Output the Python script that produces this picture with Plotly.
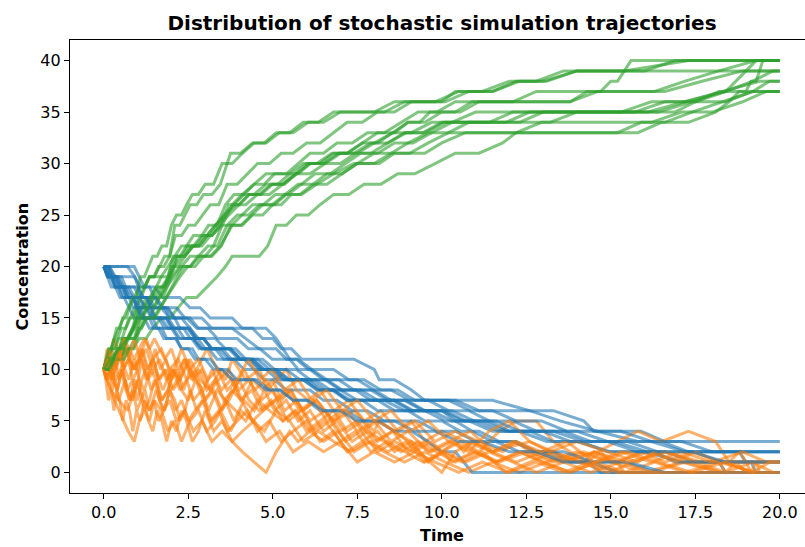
import plotly.graph_objects as go

# Stochastic simulation runs of A -> B -> C. Each run lists its event times and
# the molecule counts of A, B and C right after every event.
times = [
    [0, 0.15, 0.35, 0.5, 0.7, 0.9, 1.1, 1.3, 1.5, 1.75, 2.0, 2.25, 2.55, 2.85, 3.15, 3.45, 3.8, 4.1, 4.4, 4.7, 5.0, 5.25, 5.55, 5.85, 6.3, 6.8, 7.4, 8.0, 8.15, 8.6, 9.1, 9.5, 10.0, 10.7, 11.5, 12.6, 13.3, 14.2, 14.5, 15.2, 15.9, 16.6, 17.4, 18.3, 19.2, 20.0],
    [0, 0.1, 0.2, 0.32, 0.45, 0.55, 0.7, 0.85, 1.0, 1.12, 1.25, 1.4, 1.55, 1.7, 1.9, 2.05, 2.25, 2.45, 2.65, 2.9, 3.1, 3.35, 3.6, 3.85, 4.15, 4.45, 4.75, 5.05, 5.4, 5.75, 6.1, 6.5, 6.9, 7.35, 7.8, 8.3, 8.8, 9.3, 9.85, 10.4, 11.0, 11.6, 12.3, 13.0, 13.8, 14.6, 15.4, 16.3, 17.2, 18.2, 19.3, 20.0],
    [0, 0.08, 0.18, 0.3, 0.4, 0.52, 0.65, 0.78, 0.9, 1.05, 1.2, 1.35, 1.5, 1.65, 1.8, 1.95, 2.1, 2.25, 2.4, 2.55, 2.75, 2.95, 3.2, 3.45, 3.75, 4.05, 4.4, 4.75, 5.1, 5.5, 5.9, 6.35, 6.8, 7.3, 7.8, 8.3, 8.9, 9.5, 10.1, 10.8, 11.5, 12.3, 13.1, 14.0, 15.0, 16.0, 17.1, 18.2, 19.3, 20.0],
    [0, 0.15, 0.3, 0.5, 0.65, 0.85, 1.05, 1.25, 1.45, 1.7, 1.95, 2.2, 2.45, 2.75, 3.05, 3.35, 3.6, 3.8, 4.2, 4.6, 4.85, 5.1, 5.4, 5.7, 6.05, 6.4, 6.8, 7.25, 7.7, 8.2, 8.7, 9.2, 9.8, 10.4, 11.1, 11.8, 12.2, 12.6, 13.5, 14.6, 15.8, 16.5, 17.3, 18.1, 18.5, 18.8, 19.0, 19.15, 19.3, 19.4, 19.5, 20.0],
    [0, 0.12, 0.25, 0.38, 0.5, 0.62, 0.75, 0.9, 1.05, 1.2, 1.38, 1.55, 1.72, 1.9, 2.1, 2.3, 2.5, 2.72, 2.95, 3.2, 3.45, 3.7, 4.0, 4.3, 4.6, 4.95, 5.3, 5.65, 6.0, 6.4, 6.8, 7.2, 7.65, 8.1, 8.55, 9.0, 9.5, 10.0, 10.55, 11.1, 11.7, 12.2, 12.8, 13.3, 13.8, 14.3, 14.7, 15.0, 15.2, 15.4, 15.6, 20.0],
    [0, 0.1, 0.22, 0.35, 0.48, 0.6, 0.75, 0.9, 1.05, 1.2, 1.35, 1.5, 1.65, 1.8, 2.0, 2.2, 2.4, 2.65, 2.9, 3.15, 3.4, 3.7, 4.0, 4.3, 4.65, 5.0, 5.35, 5.7, 6.1, 6.55, 7.0, 7.5, 8.0, 8.55, 9.1, 9.7, 10.3, 11.0, 11.7, 12.5, 13.3, 14.2, 15.1, 16.1, 17.2, 18.4, 20.0],
    [0, 0.08, 0.16, 0.25, 0.34, 0.44, 0.54, 0.64, 0.75, 0.86, 0.98, 1.1, 1.22, 1.35, 1.48, 1.62, 1.78, 1.95, 2.12, 2.3, 2.5, 2.7, 2.92, 3.15, 3.4, 3.65, 3.95, 4.25, 4.55, 4.9, 5.25, 5.6, 6.0, 6.4, 6.8, 7.2, 7.65, 8.1, 8.6, 9.1, 9.6, 10.0, 10.4, 10.65, 10.9, 11.5, 12.2, 13.0, 14.0, 15.4, 17.3, 20.0],
    [0, 0.1, 0.2, 0.32, 0.45, 0.58, 0.72, 0.9, 1.05, 1.2, 1.35, 1.5, 1.7, 1.9, 2.1, 2.3, 2.55, 2.8, 3.05, 3.3, 3.6, 3.9, 4.2, 4.55, 4.9, 5.3, 5.7, 6.1, 6.55, 7.0, 7.45, 7.9, 8.4, 8.9, 9.45, 10.0, 10.6, 11.2, 11.9, 12.6, 13.3, 14.1, 14.9, 15.7, 16.6, 17.5, 18.4, 19.2, 19.8, 20.0],
    [0, 0.12, 0.25, 0.4, 0.55, 0.7, 0.85, 1.0, 1.18, 1.36, 1.55, 1.75, 1.95, 2.15, 2.4, 2.65, 2.9, 3.2, 3.5, 3.8, 4.1, 4.45, 4.8, 5.1, 5.3, 5.5, 5.75, 6.1, 6.5, 6.95, 7.4, 7.9, 8.4, 8.95, 9.5, 10.1, 10.7, 11.4, 12.1, 12.8, 13.6, 14.4, 15.3, 16.2, 17.2, 18.3, 19.4, 20.0],
    [0, 0.1, 0.22, 0.34, 0.46, 0.58, 0.72, 0.86, 1.0, 1.15, 1.3, 1.46, 1.62, 1.8, 1.98, 2.18, 2.38, 2.6, 2.82, 3.05, 3.3, 3.55, 3.85, 4.15, 4.45, 4.8, 5.15, 5.5, 5.9, 6.3, 6.75, 7.2, 7.65, 8.1, 8.6, 9.0, 9.35, 9.65, 10.0, 10.4, 10.9, 11.5, 12.1, 12.8, 13.6, 14.5, 15.5, 16.6, 17.7, 18.9, 20.0],
    [0, 0.15, 0.3, 0.45, 0.6, 0.75, 0.92, 1.1, 1.28, 1.46, 1.65, 1.85, 2.05, 2.25, 2.48, 2.7, 2.95, 3.2, 3.48, 3.76, 4.05, 4.38, 4.7, 5.05, 5.4, 5.8, 6.2, 6.6, 7.05, 7.5, 8.0, 8.5, 9.0, 9.6, 10.2, 10.8, 11.4, 12.0, 12.6, 13.2, 14.0, 14.9, 15.8, 16.3, 16.9, 17.5, 18.2, 18.4, 18.7, 19.0, 19.3, 20.0],
    [0, 0.06, 0.14, 0.22, 0.3, 0.38, 0.47, 0.56, 0.66, 0.76, 0.86, 0.97, 1.08, 1.2, 1.32, 1.45, 1.58, 1.72, 1.86, 2.0, 2.15, 2.3, 2.45, 2.62, 2.8, 3.0, 3.25, 3.5, 3.8, 4.1, 4.45, 4.8, 5.2, 5.6, 6.05, 6.5, 7.0, 7.5, 8.0, 8.6, 9.2, 9.8, 10.5, 11.2, 12.0, 12.8, 13.6, 14.4, 15.2, 16.0, 16.9, 20.0],
    [0, 0.14, 0.28, 0.42, 0.58, 0.74, 0.9, 1.08, 1.26, 1.45, 1.65, 1.85, 2.08, 2.3, 2.55, 2.8, 3.08, 3.36, 3.65, 3.95, 4.28, 4.62, 4.98, 5.35, 5.75, 6.15, 6.6, 7.05, 7.5, 8.0, 8.5, 9.05, 9.6, 10.2, 10.85, 11.5, 12.2, 12.95, 13.7, 14.5, 15.3, 16.2, 17.1, 18.0, 18.9, 19.6, 20.0],
    [0, 0.2, 0.45, 0.7, 0.92, 1.02, 1.12, 1.25, 1.38, 1.52, 1.68, 1.84, 2.0, 2.18, 2.36, 2.56, 2.78, 3.0, 3.25, 3.5, 3.78, 4.08, 4.4, 4.72, 5.08, 5.45, 5.85, 6.25, 6.7, 7.15, 7.6, 8.1, 8.6, 9.15, 9.7, 10.3, 10.95, 11.6, 12.3, 13.0, 13.8, 14.6, 15.5, 16.4, 17.4, 18.4, 19.2, 19.7, 20.0],
]

conc_a = [
    [20, 20, 19, 19, 19, 19, 18, 18, 18, 17, 17, 17, 16, 16, 15, 15, 15, 14, 14, 13, 13, 12, 12, 11, 11, 11, 11, 10, 9, 9, 8, 7, 7, 7, 7, 6, 6, 5, 4, 4, 4, 3, 3, 3, 3, 3],
    [20, 19, 19, 18, 18, 18, 17, 17, 16, 16, 16, 15, 15, 15, 14, 14, 13, 13, 13, 12, 12, 11, 11, 11, 10, 10, 9, 9, 8, 8, 8, 7, 7, 6, 6, 5, 5, 5, 4, 4, 3, 3, 2, 2, 1, 1, 1, 0, 0, 0, 0, 0],
    [20, 20, 20, 19, 19, 19, 18, 18, 18, 17, 17, 17, 16, 16, 16, 15, 15, 14, 14, 14, 13, 13, 12, 12, 12, 11, 11, 10, 10, 9, 9, 8, 8, 7, 7, 7, 6, 6, 5, 5, 4, 4, 3, 3, 2, 2, 1, 1, 1, 1],
    [20, 19, 19, 18, 18, 17, 17, 16, 16, 16, 15, 15, 15, 14, 14, 14, 14, 14, 13, 12, 12, 12, 11, 11, 10, 10, 10, 9, 9, 8, 8, 7, 7, 7, 6, 6, 6, 6, 5, 4, 3, 3, 2, 2, 2, 2, 1, 1, 0, 0, 0, 0],
    [20, 20, 19, 18, 18, 18, 17, 17, 17, 16, 16, 15, 15, 15, 14, 14, 14, 13, 13, 12, 12, 12, 11, 11, 10, 10, 9, 9, 9, 8, 8, 7, 7, 6, 6, 6, 5, 5, 4, 4, 3, 3, 2, 2, 1, 1, 0, 0, 0, 0, 0, 0],
    [20, 19, 18, 18, 17, 17, 16, 15, 15, 15, 14, 14, 14, 14, 14, 13, 13, 13, 12, 12, 12, 11, 11, 11, 10, 10, 9, 9, 9, 8, 8, 7, 7, 7, 6, 6, 5, 5, 4, 4, 4, 3, 3, 2, 2, 2, 2],
    [20, 20, 19, 19, 18, 18, 17, 17, 17, 16, 16, 15, 15, 15, 14, 14, 13, 13, 13, 12, 12, 11, 11, 11, 10, 10, 9, 9, 9, 8, 8, 7, 7, 6, 6, 6, 5, 5, 4, 4, 3, 2, 2, 1, 0, 0, 0, 0, 0, 0, 0, 0],
    [20, 20, 20, 20, 20, 20, 20, 20, 19, 18, 18, 17, 16, 16, 15, 15, 14, 13, 13, 13, 12, 12, 11, 11, 10, 10, 10, 9, 9, 8, 8, 7, 7, 7, 6, 6, 5, 5, 4, 4, 3, 3, 2, 2, 2, 1, 1, 1, 1, 1],
    [20, 19, 19, 19, 18, 18, 18, 18, 17, 17, 17, 16, 16, 16, 15, 15, 15, 14, 14, 14, 14, 14, 14, 13, 12, 11, 10, 10, 9, 9, 8, 8, 7, 7, 6, 6, 5, 5, 5, 4, 4, 3, 3, 3, 2, 2, 2, 2],
    [20, 20, 19, 18, 18, 18, 17, 17, 16, 15, 15, 15, 15, 14, 14, 14, 13, 13, 12, 12, 12, 11, 11, 11, 10, 10, 9, 9, 9, 8, 8, 7, 7, 7, 6, 6, 6, 6, 6, 5, 4, 3, 3, 2, 2, 1, 1, 0, 0, 0, 0],
    [20, 19, 19, 18, 17, 17, 17, 16, 16, 15, 15, 15, 14, 14, 14, 13, 13, 12, 12, 12, 11, 11, 11, 10, 10, 9, 9, 9, 8, 8, 8, 7, 7, 7, 6, 6, 5, 4, 4, 4, 4, 3, 2, 2, 1, 1, 1, 0, 0, 0, 0, 0],
    [20, 20, 20, 19, 19, 19, 18, 18, 17, 17, 17, 16, 16, 15, 15, 15, 14, 14, 13, 13, 13, 12, 12, 12, 11, 11, 10, 10, 9, 9, 9, 8, 8, 7, 7, 6, 6, 5, 5, 5, 4, 4, 3, 3, 2, 2, 1, 1, 0, 0, 0, 0],
    [20, 19, 19, 19, 18, 18, 17, 17, 17, 16, 16, 16, 15, 15, 15, 14, 14, 13, 13, 13, 12, 12, 11, 11, 11, 10, 9, 9, 9, 8, 8, 7, 7, 7, 6, 6, 5, 5, 4, 4, 4, 3, 3, 2, 2, 2, 2],
    [20, 20, 20, 20, 19, 18, 17, 17, 16, 15, 15, 15, 14, 14, 14, 13, 13, 12, 12, 12, 11, 11, 11, 10, 10, 9, 9, 9, 8, 8, 8, 7, 7, 6, 6, 6, 5, 5, 4, 4, 3, 3, 3, 2, 2, 1, 1, 1, 1],
]

conc_b = [
    [10, 11, 9, 10, 12, 10, 11, 9, 10, 8, 10, 9, 11, 9, 8, 10, 9, 7, 9, 8, 9, 7, 8, 6, 7, 5, 6, 4, 5, 4, 5, 3, 4, 3, 2, 3, 2, 1, 2, 1, 2, 1, 2, 1, 0, 0],
    [10, 12, 10, 11, 9, 10, 8, 9, 7, 9, 10, 8, 9, 7, 8, 10, 8, 9, 7, 8, 6, 8, 7, 5, 7, 6, 8, 6, 7, 5, 6, 4, 5, 3, 4, 3, 2, 3, 2, 1, 2, 1, 2, 1, 0, 1, 0, 1, 0, 1, 0, 0],
    [10, 9, 11, 9, 8, 10, 8, 7, 9, 8, 6, 7, 9, 7, 6, 8, 7, 5, 6, 8, 6, 7, 5, 6, 4, 6, 5, 4, 6, 5, 3, 4, 3, 2, 3, 2, 1, 2, 1, 0, 1, 0, 1, 2, 1, 0, 1, 0, 0, 0],
    [10, 11, 13, 11, 12, 10, 11, 13, 11, 12, 10, 11, 9, 10, 12, 10, 9, 11, 9, 10, 8, 9, 10, 8, 7, 8, 6, 7, 5, 6, 4, 5, 3, 4, 3, 2, 3, 2, 1, 2, 4, 3, 4, 3, 1, 2, 1, 0, 1, 0, 0, 0],
    [10, 9, 11, 10, 12, 10, 9, 11, 9, 8, 10, 9, 7, 8, 10, 8, 7, 9, 7, 8, 6, 7, 9, 7, 6, 7, 5, 6, 4, 5, 6, 4, 5, 3, 4, 2, 3, 2, 3, 2, 4, 5, 5, 3, 2, 1, 2, 1, 1, 0, 0, 0],
    [10, 11, 12, 11, 12, 13, 12, 11, 12, 13, 12, 13, 12, 11, 12, 10, 11, 9, 10, 8, 9, 10, 8, 9, 7, 8, 6, 7, 5, 6, 4, 5, 3, 4, 3, 2, 3, 2, 1, 2, 1, 2, 1, 2, 1, 1, 1],
    [10, 9, 10, 8, 9, 7, 8, 9, 7, 8, 6, 7, 8, 6, 7, 5, 6, 8, 6, 7, 5, 6, 7, 5, 6, 4, 5, 6, 4, 5, 3, 4, 5, 3, 4, 2, 3, 4, 2, 3, 1, 2, 3, 2, 3, 2, 1, 2, 1, 0, 0, 0],
    [10, 9, 8, 7, 6, 5, 4, 3, 5, 6, 5, 7, 6, 4, 5, 3, 5, 6, 4, 5, 7, 6, 5, 7, 6, 5, 6, 4, 5, 3, 4, 2, 3, 2, 1, 2, 1, 2, 0, 1, 2, 1, 0, 1, 2, 1, 0, 1, 0, 0],
    [10, 11, 9, 8, 10, 8, 7, 9, 7, 6, 8, 6, 7, 5, 6, 4, 5, 3, 4, 3, 2, 1, 0, 2, 3, 4, 3, 4, 3, 4, 2, 3, 2, 3, 1, 2, 1, 2, 1, 0, 1, 0, 1, 0, 1, 0, 0, 0],
    [10, 11, 9, 10, 12, 10, 11, 9, 10, 12, 10, 11, 9, 10, 8, 9, 11, 9, 10, 8, 9, 7, 8, 10, 8, 9, 7, 8, 6, 7, 5, 6, 4, 5, 4, 3, 2, 1, 0, 2, 3, 2, 3, 2, 1, 2, 1, 2, 1, 1, 1],
    [10, 12, 10, 11, 13, 11, 10, 12, 10, 11, 9, 10, 8, 9, 11, 9, 8, 10, 8, 9, 7, 8, 6, 7, 8, 6, 7, 5, 6, 4, 5, 3, 4, 2, 3, 2, 4, 5, 3, 2, 3, 2, 1, 2, 1, 2, 1, 0, 1, 0, 0, 0],
    [10, 9, 7, 8, 6, 8, 7, 5, 7, 6, 4, 6, 5, 7, 5, 4, 6, 5, 3, 5, 4, 6, 5, 3, 4, 6, 4, 5, 3, 4, 5, 3, 4, 2, 3, 2, 3, 1, 2, 1, 2, 1, 0, 1, 0, 1, 0, 1, 0, 0, 0, 0],
    [10, 11, 9, 12, 10, 11, 13, 11, 12, 10, 11, 9, 10, 12, 10, 11, 9, 10, 8, 9, 11, 9, 10, 8, 9, 7, 8, 6, 7, 5, 6, 4, 5, 3, 4, 2, 3, 2, 3, 1, 2, 1, 2, 1, 2, 1, 1],
    [10, 8, 7, 6, 8, 9, 11, 9, 10, 12, 10, 11, 9, 10, 8, 10, 9, 7, 8, 6, 8, 7, 5, 6, 7, 5, 6, 4, 5, 3, 4, 2, 3, 2, 3, 1, 2, 1, 2, 1, 0, 1, 2, 1, 0, 1, 0, 1, 1],
]

conc_c = [
    [10, 11, 11, 12, 13, 14, 15, 16, 17, 17, 19, 20, 20, 21, 21, 22, 24, 24, 25, 25, 26, 26, 27, 27, 28, 29, 30, 30, 30, 31, 31, 31, 32, 33, 33, 33, 33, 33, 33, 33, 34, 34, 35, 36, 37, 37],
    [10, 10, 11, 11, 12, 13, 13, 14, 15, 16, 17, 17, 18, 19, 19, 21, 21, 22, 23, 23, 24, 24, 26, 27, 27, 28, 28, 29, 29, 30, 31, 31, 32, 32, 33, 33, 34, 35, 35, 36, 36, 36, 36, 36, 36, 37, 37, 37, 38, 39, 40, 40],
    [10, 11, 12, 12, 13, 14, 14, 15, 16, 17, 18, 19, 19, 20, 21, 21, 24, 24, 25, 26, 26, 27, 27, 28, 31, 31, 32, 32, 33, 33, 34, 34, 35, 35, 35, 35, 36, 36, 36, 37, 37, 38, 38, 39, 39, 39, 39, 39, 39, 39],
    [10, 10, 11, 11, 12, 12, 13, 13, 14, 15, 15, 16, 17, 17, 18, 19, 20, 21, 21, 21, 22, 24, 24, 25, 25, 26, 27, 27, 28, 28, 29, 29, 30, 31, 31, 32, 33, 33, 33, 33, 33, 34, 34, 35, 36, 37, 37, 38, 38, 39, 40, 40],
    [10, 11, 11, 11, 12, 13, 13, 14, 16, 16, 17, 17, 18, 19, 20, 21, 22, 22, 23, 23, 24, 26, 26, 27, 27, 28, 28, 29, 30, 30, 31, 31, 32, 32, 33, 34, 34, 35, 35, 36, 36, 36, 36, 36, 36, 37, 37, 38, 38, 39, 40, 40],
    [10, 10, 10, 11, 11, 12, 12, 12, 14, 15, 15, 16, 17, 18, 20, 20, 21, 22, 22, 23, 24, 25, 26, 27, 27, 28, 28, 29, 30, 30, 31, 31, 32, 33, 33, 34, 34, 35, 35, 35, 35, 35, 35, 35, 36, 37, 37],
    [10, 11, 11, 12, 12, 13, 13, 14, 15, 15, 16, 17, 18, 19, 19, 20, 20, 21, 23, 23, 24, 24, 25, 26, 26, 28, 28, 29, 30, 30, 31, 31, 32, 32, 33, 34, 34, 35, 35, 36, 36, 36, 37, 37, 37, 37, 38, 38, 39, 39, 40, 40],
    [10, 11, 12, 13, 14, 15, 16, 17, 18, 18, 19, 19, 19, 20, 21, 22, 22, 22, 23, 24, 25, 26, 26, 27, 27, 28, 29, 29, 30, 30, 31, 31, 32, 33, 33, 34, 34, 34, 34, 35, 35, 35, 35, 35, 36, 36, 37, 38, 39, 39],
    [10, 10, 11, 12, 12, 13, 14, 16, 16, 17, 18, 18, 19, 21, 21, 22, 23, 23, 24, 26, 27, 28, 29, 29, 29, 29, 29, 30, 30, 31, 31, 32, 32, 33, 33, 34, 34, 34, 35, 35, 35, 35, 35, 36, 36, 37, 38, 38],
    [10, 11, 11, 11, 12, 13, 13, 14, 15, 15, 16, 17, 18, 18, 19, 21, 21, 22, 22, 23, 24, 25, 26, 27, 27, 28, 28, 29, 30, 30, 31, 31, 32, 33, 33, 34, 34, 35, 35, 35, 36, 36, 36, 37, 37, 37, 37, 37, 38, 39, 39],
    [10, 10, 11, 11, 11, 12, 13, 14, 15, 15, 16, 17, 18, 19, 20, 20, 21, 21, 22, 24, 24, 25, 26, 26, 27, 27, 28, 29, 29, 30, 31, 31, 32, 33, 33, 34, 34, 34, 34, 34, 35, 35, 35, 35, 35, 36, 37, 37, 38, 39, 40, 40],
    [10, 11, 12, 12, 13, 14, 14, 15, 15, 16, 17, 17, 19, 19, 20, 21, 21, 22, 22, 24, 25, 25, 26, 27, 27, 28, 28, 30, 30, 31, 32, 32, 33, 33, 34, 34, 35, 35, 35, 36, 36, 36, 37, 37, 38, 38, 39, 39, 39, 39, 40, 40],
    [10, 10, 11, 12, 12, 13, 13, 15, 16, 16, 17, 18, 19, 20, 21, 21, 22, 22, 24, 25, 25, 26, 26, 27, 28, 28, 28, 29, 30, 30, 31, 31, 32, 33, 33, 33, 33, 34, 34, 34, 34, 34, 35, 35, 36, 37, 37],
    [10, 11, 12, 13, 13, 14, 14, 15, 15, 15, 16, 17, 18, 19, 20, 20, 21, 21, 22, 24, 24, 25, 26, 26, 27, 27, 28, 29, 29, 30, 31, 31, 32, 32, 33, 34, 34, 34, 34, 35, 35, 35, 35, 35, 36, 36, 37, 38, 38],
]

x_ticks = [0.0, 2.5, 5.0, 7.5, 10.0, 12.5, 15.0, 17.5, 20.0]
x_tick_labels = ["0.0", "2.5", "5.0", "7.5", "10.0", "12.5", "15.0", "17.5", "20.0"]
y_ticks = [0, 5, 10, 15, 20, 25, 30, 35, 40]

species_colors = ["#1f77b4", "#ff7f0e", "#2ca02c"]

for run in range(len(times)):
    for series in (conc_a, conc_b, conc_c):
        if len(series[run]) != len(times[run]):
            raise ValueError(f"run {run}: {len(series[run])} values for {len(times[run])} times")

fig = go.Figure()
for t, a, b, c in zip(times, conc_a, conc_b, conc_c):
    for values, color in zip((a, b, c), species_colors):
        fig.add_trace(go.Scatter(
            x=t, y=values, mode="lines",
            line=dict(color=color, width=3),
            opacity=0.6, showlegend=False, hoverinfo="skip",
        ))

font_family = "DejaVu Sans"
W, H = 805, 547
L, R, T, B = 70, 0, 40, 54

fig.update_layout(
    width=W, height=H,
    margin=dict(l=L, r=R, t=T, b=B, autoexpand=False),
    paper_bgcolor="white", plot_bgcolor="white",
    font=dict(family=font_family, size=16, color="black"),
    title=dict(
        text="<b>Distribution of stochastic simulation trajectories</b>",
        font=dict(family=font_family, size=20, color="black"),
        x=442 / W, xref="container", xanchor="center",
        y=1 - 23 / H, yref="container", yanchor="middle",
    ),
    xaxis=dict(
        range=[-1, 20.746], tickvals=x_ticks, ticktext=x_tick_labels,
        showline=True, linecolor="black", linewidth=1.2, mirror=True,
        ticks="outside", ticklen=5, tickwidth=1.2, tickcolor="black",
        showgrid=False, zeroline=False, tickfont=dict(size=16),
    ),
    yaxis=dict(
        range=[-2, 42], tickvals=y_ticks,
        showline=True, linecolor="black", linewidth=1.2,
        ticks="outside", ticklen=5, tickwidth=1.2, tickcolor="black",
        showgrid=False, zeroline=False, tickfont=dict(size=16),
    ),
    annotations=[
        dict(text="<b>Time</b>", xref="paper", yref="paper",
             x=(442 - L) / (W - L - R), y=0, xanchor="center", yanchor="middle",
             yshift=-42, showarrow=False, font=dict(size=16)),
        dict(text="<b>Concentration</b>", xref="paper", yref="paper",
             x=0, y=0.5, xanchor="center", yanchor="middle", xshift=22 - L,
             textangle=-90, showarrow=False, font=dict(size=16)),
    ],
)

fig.write_html("out.html")
